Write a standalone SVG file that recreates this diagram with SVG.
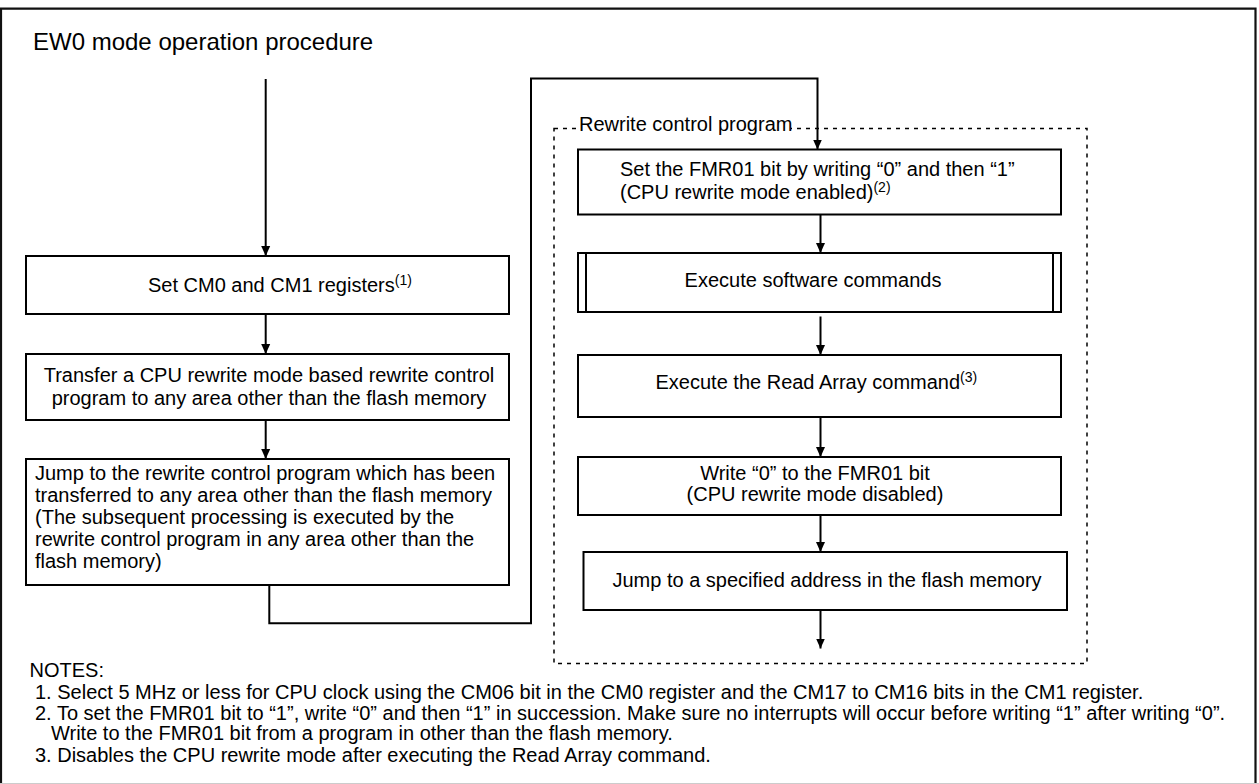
<svg xmlns="http://www.w3.org/2000/svg" width="1259" height="784" viewBox="0 0 1259 784">
  <style>
    text { font-family: "Liberation Sans", Arial, sans-serif; font-size: 20px; fill: #000; }
    .title { font-size: 24px; }
    .sup { font-size: 14px; }
    .box { fill: #fff; stroke: #000; stroke-width: 2; }
    .conn { fill: none; stroke: #000; stroke-width: 2; }
    .dotted { fill: none; stroke: #000; stroke-width: 1.5; stroke-dasharray: 4 5; }
  </style>
  <defs>
    <marker id="arrow" markerUnits="userSpaceOnUse" markerWidth="10" markerHeight="10" refX="10" refY="5" orient="auto">
      <path d="M0,0.5 L10,5 L0,9.5 z" fill="#000"/>
    </marker>
  </defs>
  <rect x="0" y="0" width="1259" height="784" fill="#fff"/>
  <!-- outer frame -->
  <path d="M1,784 V8.7 H1255.5 V784" fill="none" stroke="#111" stroke-width="2.2"/>
  <line x1="0" y1="783.5" x2="1259" y2="783.5" stroke="#ccc" stroke-width="1"/>

  <text class="title" x="33" y="50">EW0 mode operation procedure</text>

  <!-- rewrite control program region -->
  <g id="region">
    <rect class="dotted" x="554" y="128.5" width="533" height="535"/>
    <rect x="576" y="115" width="215" height="19" fill="#fff"/>
    <text x="579" y="131">Rewrite control program</text>
  </g>

  <g id="connectors">
    <path class="conn" d="M265.7,79 V256" marker-end="url(#arrow)"/>
    <path class="conn" d="M265.7,314 V354" marker-end="url(#arrow)"/>
    <path class="conn" d="M265.7,420 V459" marker-end="url(#arrow)"/>
    <path class="conn" d="M269.3,585 V623.3 H531 V78.5 H817.5 V149.5" marker-end="url(#arrow)"/>
    <path class="conn" d="M820.5,214.5 V253" marker-end="url(#arrow)"/>
    <path class="conn" d="M820.5,316.5 V355" marker-end="url(#arrow)"/>
    <path class="conn" d="M820.5,417 V457" marker-end="url(#arrow)"/>
    <path class="conn" d="M820.5,515 V552" marker-end="url(#arrow)"/>
    <path class="conn" d="M820.5,610 V648.5" marker-end="url(#arrow)"/>
  </g>

  <g id="set-cm">
    <rect class="box" x="26" y="256" width="483" height="58"/>
    <text x="148" y="292">Set CM0 and CM1 registers<tspan class="sup" dy="-7">(1)</tspan></text>
  </g>

  <g id="transfer">
    <rect class="box" x="26" y="354" width="483" height="66"/>
    <text x="269" y="382" text-anchor="middle">Transfer a CPU rewrite mode based rewrite control</text>
    <text x="269" y="405" text-anchor="middle">program to any area other than the flash memory</text>
  </g>

  <g id="jump-rewrite">
    <rect class="box" x="26" y="459" width="483" height="126"/>
    <text x="35" y="480">Jump to the rewrite control program which has been</text>
    <text x="35" y="502">transferred to any area other than the flash memory</text>
    <text x="35" y="524">(The subsequent processing is executed by the</text>
    <text x="35" y="546">rewrite control program in any area other than the</text>
    <text x="35" y="568">flash memory)</text>
  </g>

  <g id="set-fmr01">
    <rect class="box" x="578" y="149.5" width="483" height="65"/>
    <text x="620" y="176">Set the FMR01 bit by writing “0” and then “1”</text>
    <text x="620" y="198.5">(CPU rewrite mode enabled)<tspan class="sup" dy="-7">(2)</tspan></text>
  </g>

  <g id="exec-sw">
    <rect class="box" x="578" y="253" width="483" height="59"/>
    <line x1="586" y1="253" x2="586" y2="312" stroke="#000" stroke-width="2"/>
    <line x1="1053" y1="253" x2="1053" y2="312" stroke="#000" stroke-width="2"/>
    <text x="813" y="287" text-anchor="middle">Execute software commands</text>
  </g>

  <g id="read-array">
    <rect class="box" x="578" y="355" width="483" height="62"/>
    <text x="655.5" y="388.5">Execute the Read Array command<tspan class="sup" dy="-7">(3)</tspan></text>
  </g>

  <g id="write-0">
    <rect class="box" x="578" y="457" width="483" height="58"/>
    <text x="815" y="480" text-anchor="middle">Write “0” to the FMR01 bit</text>
    <text x="815" y="501" text-anchor="middle">(CPU rewrite mode disabled)</text>
  </g>

  <g id="jump-flash">
    <rect class="box" x="583.5" y="552" width="483.5" height="58"/>
    <text x="827" y="587" text-anchor="middle">Jump to a specified address in the flash memory</text>
  </g>

  <g id="notes">
    <text x="29.5" y="677">NOTES:</text>
    <text x="35" y="699">1. Select 5 MHz or less for CPU clock using the CM06 bit in the CM0 register and the CM17 to CM16 bits in the CM1 register.</text>
    <text x="35" y="720">2. To set the FMR01 bit to “1”, write “0” and then “1” in succession. Make sure no interrupts will occur before writing “1” after writing “0”.</text>
    <text x="51" y="740">Write to the FMR01 bit from a program in other than the flash memory.</text>
    <text x="35" y="761.5">3. Disables the CPU rewrite mode after executing the Read Array command.</text>
  </g>
</svg>
